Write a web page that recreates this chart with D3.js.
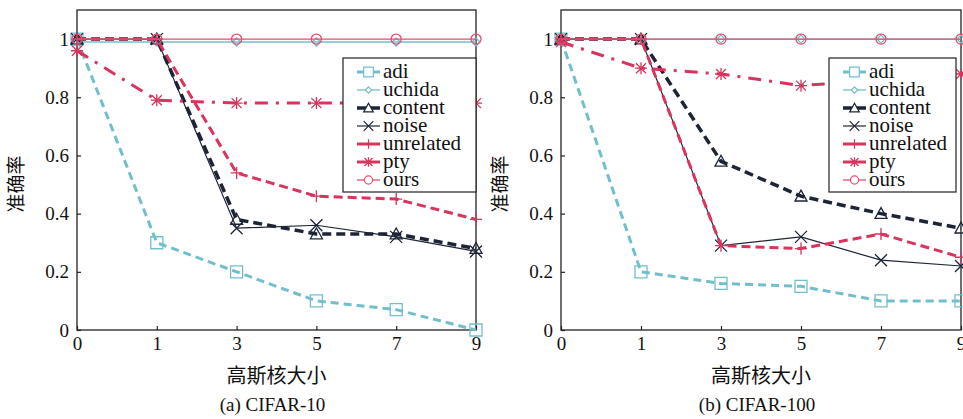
<!DOCTYPE html>
<html>
<head>
<meta charset="utf-8">
<script src="https://cdn.jsdelivr.net/npm/d3@7"></script>
<style>
  body { margin: 0; background: #fff; }
  svg { display: block; }
</style>
</head>
<body>
<svg id="main" width="963" height="419"></svg>
<script>
const xLabels = ['0', '1', '3', '5', '7', '9']
const seriesNames = ['adi', 'uchida', 'content', 'noise', 'unrelated', 'pty', 'ours']
const yTicks = [0, 0.2, 0.4, 0.6, 0.8, 1]

// rows follow seriesNames
const cifar10 = [
  [1, 0.30, 0.20, 0.10, 0.07, 0.00],
  [0.99, 0.99, 0.99, 0.99, 0.99, 0.99],
  [1, 1, 0.38, 0.33, 0.33, 0.28],
  [1, 1, 0.35, 0.36, 0.32, 0.27],
  [1, 1, 0.54, 0.46, 0.45, 0.38],
  [0.96, 0.79, 0.78, 0.78, 0.78, 0.78],
  [1, 1, 1, 1, 1, 1]
]
const cifar100 = [
  [1, 0.20, 0.16, 0.15, 0.10, 0.10],
  [1, 1, 1, 1, 1, 1],
  [1, 1, 0.58, 0.46, 0.40, 0.35],
  [1, 1, 0.29, 0.32, 0.24, 0.22],
  [1, 1, 0.29, 0.28, 0.33, 0.25],
  [0.99, 0.90, 0.88, 0.84, 0.86, 0.88],
  [1, 1, 1, 1, 1, 1]
]

const serif = '"Liberation Serif", "Times New Roman", serif'
const cjk = '"Noto Sans CJK SC", sans-serif'
const teal = '#72bfcb', navy = '#1c2436', crimson = '#d8345c', pink = '#e24e6d'
const styles = {
  adi:       {color: teal, width: 3, dash: '8,5', marker: 'square'},
  uchida:    {color: teal, width: 1.3, dash: null, marker: 'diamond'},
  content:   {color: navy, width: 3.5, dash: '9,5', marker: 'triangle'},
  noise:     {color: navy, width: 1.2, dash: null, marker: 'x'},
  unrelated: {color: crimson, width: 3, dash: '9,5', marker: 'plus'},
  pty:       {color: crimson, width: 3, dash: '13,8,3,8', marker: 'star'},
  ours:      {color: pink, width: 1.3, dash: null, marker: 'circle'}
}

function markerPath(type) {
  const s = 6
  switch (type) {
    case 'square': return `M${-s},${-s}H${s}V${s}H${-s}Z`
    case 'diamond': return `M0,${-4}L4,0L0,4L-4,0Z`
    case 'triangle': return `M0,${-s}L${s},${s*0.8}H${-s}Z`
    case 'x': return `M${-s},${-s}L${s},${s}M${-s},${s}L${s},${-s}`
    case 'plus': return `M${-s},0H${s}M0,${-s}V${s}`
    case 'star': return `M${-s},0H${s}M0,${-s}V${s}M${-5},${-5}L5,5M${-5},5L5,${-5}`
    case 'circle': return d3.symbol(d3.symbolCircle, 80)()
  }
}
const filled = t => ['square', 'diamond', 'triangle', 'circle'].includes(t)

const svg = d3.select('#main')

const panels = [
  {values: cifar10, left: 77, right: 476, caption: '(a) CIFAR-10', legendX: 343, legendW: 133},
  {values: cifar100, left: 561, right: 961, caption: '(b) CIFAR-100', legendX: 829, legendW: 127}
]
const plotTop = 10, plotBottom = 330

panels.forEach(p => {
  const x = d3.scalePoint().domain(xLabels).range([p.left, p.right])
  const y = d3.scaleLinear().domain([0, 1.1]).range([plotBottom, plotTop])
  const g = svg.append('g')

  // frame
  g.append('rect')
    .attr('x', p.left).attr('y', plotTop)
    .attr('width', p.right - p.left).attr('height', plotBottom - plotTop)
    .attr('fill', 'none').attr('stroke', '#222').attr('stroke-width', 1.3)

  const yAxis = g.append('g')
    .attr('transform', `translate(${p.left},0)`)
    .call(d3.axisLeft(y).tickValues(yTicks).tickSize(-4).tickPadding(8).tickFormat(d3.format('~g')))
  const xAxis = g.append('g')
    .attr('transform', `translate(0,${plotBottom})`)
    .call(d3.axisBottom(x).tickSize(-4).tickPadding(7))
  ;[yAxis, xAxis].forEach(a => {
    a.select('.domain').remove()
    a.selectAll('line').attr('stroke', '#222').attr('stroke-width', 1.2)
    a.selectAll('text').style('font-family', serif).style('font-size', '19px').attr('fill', '#111')
  })

  // series
  p.values.forEach((vals, i) => {
    const st = styles[seriesNames[i]]
    const pts = vals.map((v, j) => [x(xLabels[j]), y(v)])
    g.append('path')
      .attr('d', d3.line()(pts))
      .attr('fill', 'none')
      .attr('stroke', st.color)
      .attr('stroke-width', st.width)
      .attr('stroke-dasharray', st.dash)
    g.selectAll(null).data(pts).join('path')
      .attr('transform', d => `translate(${d[0]},${d[1]})`)
      .attr('d', markerPath(st.marker))
      .attr('fill', 'none')
      .attr('stroke', st.color)
      .attr('stroke-width', 1.3)
  })

  // legend
  const lg = g.append('g')
  lg.append('rect')
    .attr('x', p.legendX).attr('y', 58)
    .attr('width', p.legendW).attr('height', 134)
    .attr('fill', '#fff').attr('stroke', '#222').attr('stroke-width', 1.2)
  seriesNames.forEach((name, i) => {
    const st = styles[name]
    const ly = 72 + i * 18
    const x0 = p.legendX + 14, x1 = x0 + 23
    lg.append('line')
      .attr('x1', x0).attr('x2', x1).attr('y1', ly).attr('y2', ly)
      .attr('stroke', st.color).attr('stroke-width', st.width)
    lg.append('path')
      .attr('transform', `translate(${(x0 + x1) / 2},${ly}) scale(0.8)`)
      .attr('d', markerPath(st.marker))
      .attr('fill', filled(st.marker) ? '#fff' : 'none')
      .attr('stroke', st.color).attr('stroke-width', 1.5)
    lg.append('text')
      .attr('x', x1 + 3).attr('y', ly + 6)
      .style('font-family', serif).style('font-size', '21px').attr('fill', '#111')
      .text(name)
  })

  const cx = (p.left + p.right) / 2
  g.append('text')
    .attr('x', cx).attr('y', 383)
    .attr('text-anchor', 'middle')
    .style('font-family', cjk).style('font-size', '20px').attr('fill', '#111')
    .text('高斯核大小')
  g.append('text')
    .attr('x', cx - 4).attr('y', 411)
    .attr('text-anchor', 'middle')
    .style('font-family', serif).style('font-size', '19px').attr('fill', '#111')
    .text(p.caption)
  g.append('text')
    .attr('transform', `translate(${p.left - 54},${184}) rotate(-90)`)
    .attr('text-anchor', 'middle')
    .style('font-family', cjk).style('font-size', '19px').attr('fill', '#111')
    .text('准确率')
})
</script>
</body>
</html>
